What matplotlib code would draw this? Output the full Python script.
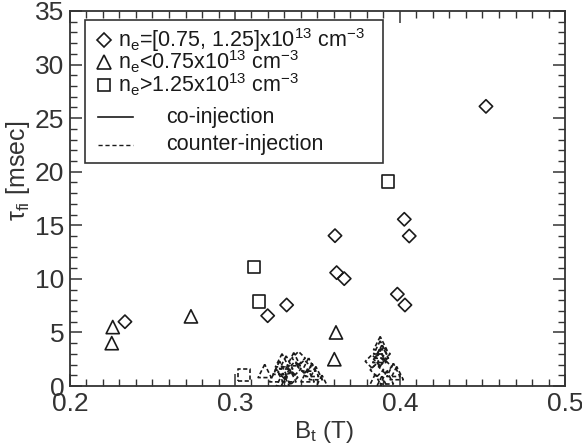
import matplotlib
matplotlib.use("Agg")
import matplotlib.pyplot as plt
from matplotlib.patches import Rectangle
from matplotlib.ticker import MultipleLocator, FuncFormatter

plt.rcParams['font.family'] = ['Liberation Sans', 'DejaVu Sans']
plt.rcParams['mathtext.fontset'] = 'custom'
plt.rcParams['mathtext.rm'] = 'Liberation Sans'
plt.rcParams['mathtext.it'] = 'Liberation Sans:italic'

# ---- data: co-injection (solid markers) ----
co_mid_x = [0.2333, 0.3198, 0.3313, 0.3606, 0.3616, 0.3662, 0.3984, 0.4030, 0.4026, 0.4056, 0.4521]
co_mid_y = [6.0, 6.56, 7.56, 14.03, 10.58, 10.02, 8.57, 7.56, 15.56, 14.0, 26.1]
co_low_x = [0.2259, 0.2253, 0.2733, 0.3612, 0.3602]
co_low_y = [5.5, 4.0, 6.5, 5.0, 2.5]
co_high_x = [0.3115, 0.3147, 0.3929]
co_high_y = [11.1, 7.9, 19.1]

# ---- data: counter-injection (dashed markers) ----
cn_high_x = [0.3055]
cn_high_y = [1.0]
cn_low_x = [0.318, 0.3285, 0.3356, 0.3310, 0.325, 0.329, 0.331, 0.333, 0.327, 0.3446, 0.3467,
            0.349, 0.3527, 0.344, 0.388, 0.388, 0.389, 0.3875, 0.396, 0.398, 0.385, 0.389, 0.392]
cn_low_y = [1.4, 2.4, 2.5, 2.2, 1.0, 0.6, 0.3, 1.0, 1.7, 2.0, 1.5,
            1.2, 0.4, 1.0, 4.0, 3.6, 3.2, 2.8, 1.5, 1.2, 0.5, 0.3, 0.8]
cn_mid_x = [0.330, 0.334, 0.3385, 0.336, 0.342, 0.383, 0.388, 0.391, 0.386, 0.390]
cn_mid_y = [1.3, 0.8, 2.6, 1.6, 1.8, 2.3, 2.5, 1.8, 1.5, 3.0]

legend_labels = [r'n$_{\mathregular{e}}$=[0.75, 1.25]x10$^{\mathregular{13}}$ cm$^{\mathregular{-3}}$',
                 r'n$_{\mathregular{e}}$<0.75x10$^{\mathregular{13}}$ cm$^{\mathregular{-3}}$',
                 r'n$_{\mathregular{e}}$>1.25x10$^{\mathregular{13}}$ cm$^{\mathregular{-3}}$',
                 'co-injection', 'counter-injection']

fig = plt.figure(figsize=(5.82, 4.45), dpi=100)
ax = fig.add_axes([70/582, 1-386/445, 495/582, 375/445])

S_D, S_T, S_S = 46, 90, 80
lw = 1.2
dash = (0, (2.5, 1.5))
ec = '#1a1a1a'

ax.scatter(co_mid_x, co_mid_y, s=S_D, marker='D', facecolors='none', edgecolors=ec, linewidths=lw, zorder=3)
ax.scatter(co_low_x, co_low_y, s=S_T, marker='^', facecolors='none', edgecolors=ec, linewidths=lw, zorder=3)
ax.scatter(co_high_x, co_high_y, s=S_S, marker='s', facecolors='none', edgecolors=ec, linewidths=lw, zorder=3)

ax.scatter(cn_mid_x, cn_mid_y, s=S_D, marker='D', facecolors='none', edgecolors=ec, linewidths=lw, linestyles=dash, zorder=3)
ax.scatter(cn_low_x, cn_low_y, s=S_T, marker='^', facecolors='none', edgecolors=ec, linewidths=lw, linestyles=dash, zorder=3)
ax.scatter(cn_high_x, cn_high_y, s=S_S, marker='s', facecolors='none', edgecolors=ec, linewidths=lw, linestyles=dash, zorder=3)

ax.set_xlim(0.2, 0.5)
ax.set_ylim(0, 35)
ax.xaxis.set_major_locator(MultipleLocator(0.1))
ax.xaxis.set_minor_locator(MultipleLocator(0.01))
ax.yaxis.set_major_locator(MultipleLocator(5))
ax.yaxis.set_minor_locator(MultipleLocator(1))
ax.xaxis.set_major_formatter(FuncFormatter(lambda v, p: f'{v:.1f}'))
ax.tick_params(which='both', direction='in', top=True, right=True, colors='#333333', labelcolor='#333333')
ax.tick_params(which='major', length=8.5, width=1.1, labelsize=19, pad=4)
ax.tick_params(which='minor', length=5, width=1.0)
for sp in ax.spines.values():
    sp.set_linewidth(1.3)
    sp.set_color('#333333')

ax.set_xlabel(r'B$_{\mathregular{t}}$ (T)', fontsize=17.5, color='#333333')
ax.set_ylabel(r'τ$_{\mathregular{fi}}$ [msec]', fontsize=18, color='#333333')
ax.xaxis.set_label_coords(0.513, -0.087)
ax.yaxis.set_label_coords(-0.077, 0.573)

# ---- manual legend (axes coordinates) ----
tr = ax.transAxes
ax.add_patch(Rectangle((15/495, (386-163)/375), (383-85)/495, (163-20)/375, transform=tr,
                       facecolor='white', edgecolor='#333333', linewidth=1.2, zorder=4))
row_y = [(386-40)/375, (386-62)/375, (386-85)/375, (386-117)/375, (386-145)/375]
mk = ['D', '^', 's']
ms = [6.8, 9.5, 8.9]
for i in range(3):
    ax.plot([(104-70)/495], [row_y[i]], marker=mk[i], ms=ms[i], mfc='none', mec=ec, mew=lw,
            transform=tr, zorder=5, clip_on=False)
    ax.text((118-70)/495, row_y[i], legend_labels[i], transform=tr, fontsize=15.5, va='center', ha='left',
            color=ec, zorder=5)
ax.plot([(98-70)/495, (133-70)/495], [row_y[3]]*2, '-', color=ec, lw=1.2, transform=tr, zorder=5)
ax.plot([(98-70)/495, (133-70)/495], [row_y[4]]*2, color=ec, lw=1.0, ls=(0, (3, 2)), transform=tr, zorder=5)
ax.text((166-70)/495, row_y[3], legend_labels[3], transform=tr, fontsize=15.5, va='center', ha='left', color=ec, zorder=5)
ax.text((166-70)/495, row_y[4], legend_labels[4], transform=tr, fontsize=15.5, va='center', ha='left', color=ec, zorder=5)

fig.savefig('out.png', dpi=100)
